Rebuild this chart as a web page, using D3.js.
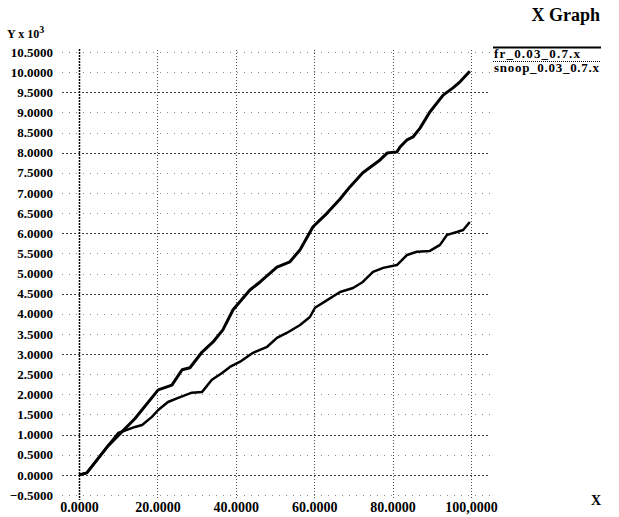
<!DOCTYPE html>
<html>
<head>
<meta charset="utf-8">
<script src="https://cdn.jsdelivr.net/npm/d3@7"></script>
<style>
  body { margin: 0; background: #fff; }
  svg { display: block; font-family: "Liberation Serif", "DejaVu Serif", serif; }
</style>
</head>
<body>
<svg width="619" height="517"></svg>
<script>
// values, y in thousands
var frX = [0, 2.0, 7.4, 14.3, 20.2, 23.7, 26.3, 28.3, 31.4, 34.2, 36.7, 39.3, 43.6, 46.2, 50.5, 53.8, 56.4, 59.7, 63.3, 66.6, 69.1, 72.4, 76.8, 78.6, 81.1, 81.9, 83.7, 85.2, 87.0, 89.5, 92.9, 95.4, 97.2, 99.7],
    frY = [0, 0.05, 0.72, 1.40, 2.11, 2.23, 2.61, 2.66, 3.05, 3.30, 3.60, 4.10, 4.59, 4.79, 5.16, 5.29, 5.59, 6.16, 6.50, 6.85, 7.15, 7.50, 7.82, 7.99, 8.02, 8.14, 8.32, 8.39, 8.61, 9.01, 9.43, 9.61, 9.76, 10.02];

var snoopX = [0, 2.0, 7.4, 10.0, 14.3, 16.1, 18.6, 20.2, 22.7, 25.3, 28.8, 31.4, 33.9, 36.5, 38.5, 41.1, 44.4, 48.0, 50.5, 53.1, 56.4, 58.9, 60.2, 63.3, 66.6, 69.9, 72.4, 75.0, 77.6, 81.1, 83.7, 86.2, 89.5, 92.1, 93.9, 96.4, 98.0, 99.7],
    snoopY = [0, 0.05, 0.72, 1.04, 1.19, 1.24, 1.44, 1.61, 1.81, 1.91, 2.04, 2.06, 2.36, 2.53, 2.68, 2.81, 3.03, 3.18, 3.40, 3.53, 3.72, 3.92, 4.15, 4.34, 4.54, 4.64, 4.79, 5.04, 5.14, 5.21, 5.46, 5.54, 5.56, 5.71, 5.96, 6.03, 6.08, 6.28];

var xTicks = [0, 20, 40, 60, 80, 100],
    xTickLabels = ["0.0000", "20.0000", "40.0000", "60.0000", "80.0000", "100,0000"];
var yTicks = d3.range(-0.5, 10.51, 0.5);
var seriesNames = ["fr_0.03_0.7.x", "snoop_0.03_0.7.x"];

var heavyGrid = [9.5, 8.0, 6.0, 4.5, 3.0, 1.0, 0.0];

var svg = d3.select('svg'),
    x = d3.scaleLinear().domain([0, 100]).range([79, 471]),
    y = d3.scaleLinear().domain([-0.5, 10.5]).range([495, 52]);

function isHeavy(d) {
    return heavyGrid.some(function (h) { return Math.abs(h - d) < 1e-6; });
}

// horizontal grid
svg.append('g')
    .selectAll('line')
    .data(yTicks)
    .enter().append('line')
    .attr('x1', 62)
    .attr('x2', 490)
    .attr('y1', function (d) { return Math.round(y(d)) + 0.5; })
    .attr('y2', function (d) { return Math.round(y(d)) + 0.5; })
    .attr('stroke', '#000')
    .attr('stroke-width', 1)
    .attr('stroke-dasharray', function (d) { return isHeavy(d) ? '2,2' : '1,6'; })
    .attr('opacity', function (d) { return isHeavy(d) ? 0.75 : 0.45; });

// vertical grid
svg.append('g')
    .selectAll('line')
    .data(xTicks.slice(1))
    .enter().append('line')
    .attr('x1', function (d) { return Math.round(x(d)) + 0.5; })
    .attr('x2', function (d) { return Math.round(x(d)) + 0.5; })
    .attr('y1', 50)
    .attr('y2', 500)
    .attr('stroke', '#000')
    .attr('stroke-dasharray', '1,2')
    .attr('opacity', 0.7);

// y axis line at x = 0
svg.append('line')
    .attr('x1', Math.round(x(0)) + 0.5)
    .attr('x2', Math.round(x(0)) + 0.5)
    .attr('y1', 49)
    .attr('y2', 500)
    .attr('stroke', '#000')
    .attr('stroke-width', 1.5)
    .attr('stroke-dasharray', '2,1');

// y labels
var yAxis = svg.append('g')
    .attr('transform', 'translate(55,0)')
    .call(d3.axisLeft(y).tickValues(yTicks).tickFormat(d3.format('.4f')).tickSize(0).tickPadding(2));
yAxis.select('.domain').remove();
yAxis.selectAll('text')
    .attr('font-family', '"Liberation Serif", serif')
    .attr('font-size', 13)
    .attr('font-weight', 'bold')
    .attr('fill', '#000');

// x labels
var xAxis = svg.append('g')
    .attr('transform', 'translate(0,499)')
    .call(d3.axisBottom(x).tickValues(xTicks)
        .tickFormat(function (d, i) { return xTickLabels[i]; })
        .tickSize(0).tickPadding(3));
xAxis.select('.domain').remove();
xAxis.selectAll('text')
    .attr('font-family', '"Liberation Serif", serif')
    .attr('font-size', 14)
    .attr('font-weight', 'bold')
    .attr('fill', '#000');

// lines
var line = d3.line()
    .x(function (d) { return x(d[0]); })
    .y(function (d) { return y(d[1]); });

svg.append('path')
    .datum(d3.zip(snoopX, snoopY))
    .attr('d', line)
    .attr('fill', 'none')
    .attr('stroke', '#000')
    .attr('stroke-width', 2.5)
    .attr('stroke-linejoin', 'round');

svg.append('path')
    .datum(d3.zip(frX, frY))
    .attr('d', line)
    .attr('fill', 'none')
    .attr('stroke', '#000')
    .attr('stroke-width', 3)
    .attr('stroke-linejoin', 'round');

// titles
svg.append('text')
    .attr('x', 600)
    .attr('y', 21)
    .attr('text-anchor', 'end')
    .attr('font-size', 18)
    .attr('font-weight', 'bold')
    .text('X Graph');

var yLab = svg.append('text')
    .attr('x', 7)
    .attr('y', 38)
    .attr('font-size', 12)
    .attr('font-weight', 'bold');
yLab.append('tspan').text('Y x 10');
yLab.append('tspan').attr('dy', -5).attr('font-size', 10).text('3');

svg.append('text')
    .attr('x', 591)
    .attr('y', 505)
    .attr('font-size', 14)
    .attr('font-weight', 'bold')
    .text('X');

// legend
svg.append('line')
    .attr('x1', 493).attr('x2', 601)
    .attr('y1', 47.5).attr('y2', 47.5)
    .attr('stroke', '#000').attr('stroke-width', 2);
svg.append('text')
    .attr('x', 494).attr('y', 58)
    .attr('font-size', 13)
    .attr('font-weight', 'bold')
    .attr('textLength', 86)
    .text(seriesNames[0]);
svg.append('line')
    .attr('x1', 493).attr('x2', 601)
    .attr('y1', 61.5).attr('y2', 61.5)
    .attr('stroke', '#000').attr('stroke-width', 1)
    .attr('stroke-dasharray', '1,1');
svg.append('text')
    .attr('x', 494).attr('y', 72)
    .attr('font-size', 13)
    .attr('font-weight', 'bold')
    .attr('textLength', 105)
    .text(seriesNames[1]);
</script>
</body>
</html>
